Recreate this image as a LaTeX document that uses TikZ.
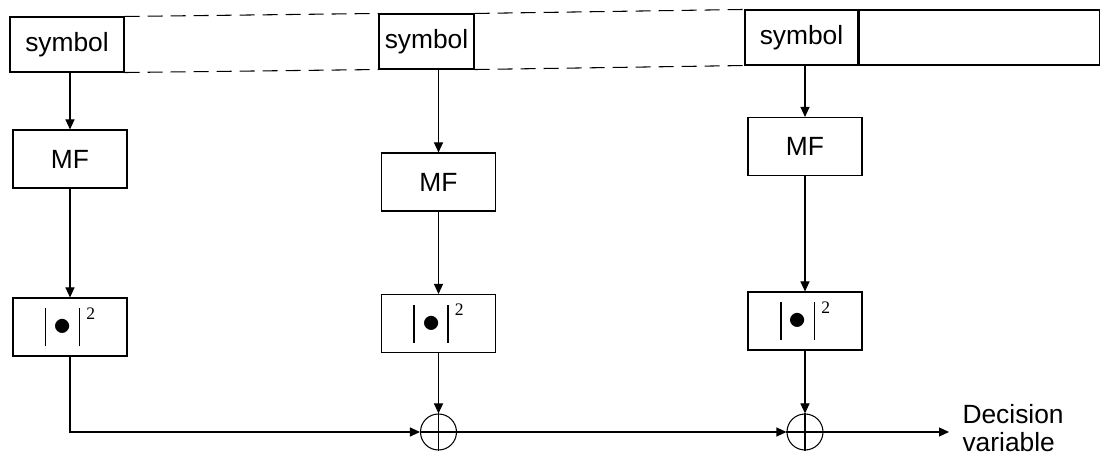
\documentclass[tikz,border=0pt]{standalone}
\usepackage{fontspec}
\setmainfont{Liberation Sans}
\newfontfamily\serifdigits{Liberation Serif}
\usetikzlibrary{arrows.meta}

% |.|^2 squaring block label
\newcommand{\magsq}{%
  \rule[-0.38cm]{1pt}{0.76cm}\hspace{0.14cm}%
  \raisebox{-0.17cm}{\fontsize{20}{20}\selectfont$\bullet$}\hspace{0.14cm}%
  \rule[-0.38cm]{1pt}{0.76cm}%
  \hspace{0.12cm}\raisebox{0.16cm}{\serifdigits\fontsize{10}{10}\selectfont 2}}

\begin{document}
\begin{tikzpicture}[line width=0.6pt,
    every node/.style={font=\fontsize{15}{17}\selectfont},
    block/.style={draw, minimum width=2.28cm, minimum height=1.16cm, inner sep=0pt},
    symbox/.style={block, minimum height=1.1cm},
    adder/.style={draw, circle, minimum size=0.72cm, inner sep=0pt},
    link/.style={-{Triangle[length=2mm,width=1.8mm]}},
    frame/.style={dash pattern=on 0.3cm off 0.16cm}]
    \useasboundingbox (0,0) rectangle (22.02,-9.16);

    % symbol frame
    \node[symbox] (sym1) at (1.34,-0.89) {symbol};
    \node[symbox, minimum width=1.9cm] (sym2) at (8.53,-0.83) {symbol};
    \node[symbox, minimum width=2.26cm] (sym3) at (16.03,-0.75) {symbol};
    \node[symbox, minimum width=4.8cm, anchor=west] (rest) at (sym3.east) {};
    \draw[frame] (sym1.north east) -- (sym2.north west)
                 (sym2.north east) -- (sym3.north west);
    \draw[frame] (sym1.south east) -- (sym2.south west)
                 (sym2.south east) -- (sym3.south west);

    % branches
    \node[block] (mf1) at (1.4,-3.18) {MF};
    \node[block] (mf2) at (8.77,-3.64) {MF};
    \node[block] (mf3) at (16.1,-2.93) {MF};
    \node[block] (sq1) at (1.4,-6.54) {\magsq};
    \node[block] (sq2) at (8.77,-6.47) {\magsq};
    \node[block] (sq3) at (16.1,-6.42) {\magsq};

    \node[adder] (sum1) at (8.77,-8.64) {};
    \node[adder] (sum2) at (16.1,-8.64) {};
    \draw (sum1.north) -- (sum1.south) (sum1.west) -- (sum1.east);
    \draw (sum2.north) -- (sum2.south) (sum2.west) -- (sum2.east);

    \node[anchor=west, align=left, inner sep=0.26cm, font=\fontsize{15}{16}\selectfont]
        (dec) at (18.98,-8.56) {Decision\\variable};

    \draw[link] (mf1.north |- sym1.south) -- (mf1.north);
    \draw[link] (mf2.north |- sym2.south) -- (mf2.north);
    \draw[link] (mf3.north |- sym3.south) -- (mf3.north);
    \draw[link] (mf1) -- (sq1);
    \draw[link] (mf2) -- (sq2);
    \draw[link] (mf3) -- (sq3);
    \draw[link] (sq2) -- (sum1);
    \draw[link] (sq3) -- (sum2);
    \draw[link] (sq1.south) |- (sum1.west);
    \draw[link] (sum1) -- (sum2);
    \draw[link] (sum2.east) -- (sum2.east -| dec.west);
\end{tikzpicture}
\end{document}
